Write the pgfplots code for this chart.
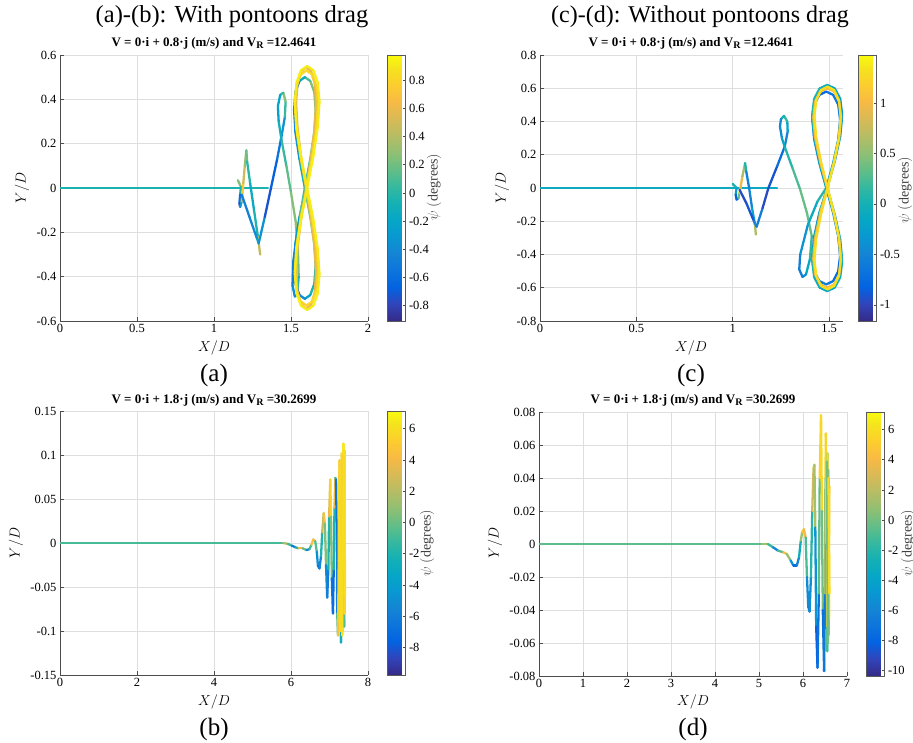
\documentclass[border=0pt]{standalone}
\usepackage{fontspec}
\setmainfont{Liberation Serif}
\usepackage{pgfplots}
\pgfplotsset{compat=1.18}

\pgfplotsset{
  colormap={parula}{
    rgb(0pt)=(0.2081,0.1663,0.5292) rgb(4pt)=(0.1959,0.2645,0.7279)
    rgb(8pt)=(0.0117,0.3875,0.8820) rgb(12pt)=(0.0498,0.4586,0.8641)
    rgb(16pt)=(0.0793,0.5200,0.8312) rgb(20pt)=(0.0343,0.5966,0.8199)
    rgb(24pt)=(0.0228,0.6535,0.7768) rgb(28pt)=(0.0843,0.6928,0.7062)
    rgb(32pt)=(0.2178,0.7250,0.6193) rgb(36pt)=(0.3953,0.7459,0.5244)
    rgb(40pt)=(0.5709,0.7485,0.4494) rgb(44pt)=(0.7184,0.7411,0.3905)
    rgb(48pt)=(0.8507,0.7299,0.3360) rgb(52pt)=(0.9739,0.7314,0.2666)
    rgb(56pt)=(0.9880,0.8066,0.1794) rgb(60pt)=(0.9589,0.8949,0.1132)
    rgb(63pt)=(0.9763,0.9831,0.0538)},
  every tick label/.append style={font=\fontsize{12.5}{15}\selectfont},
  traj/.style={
    scale only axis, anchor=north west,
    axis x line*=bottom, axis y line*=left,
    axis line style={black!70, line width=0.9pt},
    tick style={black!70, line width=0.8pt}, tick align=inside, major tick length=4pt,
    grid=major, grid style={black!13, line width=0.7pt},
    /pgf/number format/assume math mode=true,
    scaled ticks=false,
    xticklabel style={/pgf/number format/fixed, /pgf/number format/precision=2},
    yticklabel style={/pgf/number format/fixed, /pgf/number format/precision=2},
    colormap name=parula,
    colorbar,
    colorbar style={
      at={(parent axis.north east)}, anchor=north west,
      scale only axis, width=18pt,
      axis line style={black!65, line width=0.6pt},
      tick style={black!70, line width=0.6pt}, tick align=inside, major tick length=3pt,
      ytick pos=right, yticklabel pos=right,
      /pgf/number format/assume math mode=true,
      yticklabel style={/pgf/number format/fixed, /pgf/number format/precision=2},
    },
  },
  path/.style={mesh, line width=2.3pt, line cap=round, line join=round, point meta=explicit},
}

\newcommand{\subt}[2]{\textbf{V = 0·i + #1·j (m/s) and V\raisebox{-0.45ex}{\fontsize{10}{10}\selectfont R} =#2}}

\begin{document}
\begin{tikzpicture}
\path[use as bounding box] (0pt,0pt) rectangle (913pt,-743pt);

% ---------- (a) ----------
\begin{axis}[traj, at={(60pt,-55pt)}, width=308pt, height=266pt,
  xmin=0, xmax=2, ymin=-0.6, ymax=0.6,
  xtick={0,0.5,1,1.5,2}, ytick={-0.6,-0.4,-0.2,0,0.2,0.4,0.6},
  point meta min=-0.91, point meta max=0.98,
  colorbar style={xshift=11pt, height=266pt, ytick={-0.8,-0.6,-0.4,-0.2,0,0.2,0.4,0.6,0.8}}]
\addplot[path] table[meta=c] {
x y c
0 0 -0.05
1.35 0 -0.05
};
\addplot[path] table[meta=c] {
x y c
1.155 0.035 0.2
1.175 0.005 0.3
1.17 -0.03 -0.4
1.165 -0.07 -0.85
1.17 -0.085 -0.8
1.18 -0.06 0.2
1.185 -0.02 0.8
1.19 0.02 0.7
1.20 0.10 0.3
1.21 0.17 0.3
1.215 0.12 0.1
1.235 0.02 -0.1
1.26 -0.10 -0.2
1.285 -0.22 0.1
1.30 -0.30 0.8
};
\addplot[path] table[meta=c] {
x y c
1.18 -0.03 -0.4
1.23 -0.13 -0.5
1.28 -0.23 -0.3
1.29 -0.25 0.0
1.33 -0.13 -0.7
1.37 0.0 -0.75
1.41 0.13 -0.6
1.44 0.24 -0.5
1.46 0.32 -0.2
1.465 0.39 0.3
1.45 0.43 0.2
1.43 0.42 -0.1
1.415 0.37 -0.3
1.42 0.30 -0.2
1.44 0.21 0.0
1.47 0.10 0.1
1.50 -0.02 0.2
1.53 -0.15 0.3
1.545 -0.28 0.3
1.55 -0.40 0.1
1.54 -0.48 -0.2
1.525 -0.49 -0.3
1.51 -0.44 -0.45
1.515 -0.33 -0.5
1.54 -0.20 -0.3
1.57 -0.08 0.0
1.59 0.0 0.1
};
\addplot[path] table[meta=c] {
x y c
1.59 0 0.0
1.625 0.13 0.1
1.651 0.25 0.2
1.66 0.354 0.3
1.651 0.433 0.3
1.625 0.483 0.2
1.59 0.5 0.0
1.555 0.483 -0.3
1.529 0.433 -0.5
1.52 0.354 -0.5
1.529 0.25 -0.4
1.555 0.13 -0.3
1.59 0 0.1
1.625 -0.13 0.2
1.651 -0.25 0.2
1.66 -0.354 0.1
1.651 -0.433 0.0
1.625 -0.483 -0.1
1.59 -0.5 -0.3
1.555 -0.483 -0.5
1.529 -0.433 -0.6
1.52 -0.354 -0.5
1.529 -0.25 -0.4
1.555 -0.13 -0.2
1.598 0 0.5
1.6305 0.141 0.6
1.654 0.2725 0.6
1.663 0.385 0.55
1.654 0.472 0.6
1.6305 0.526 0.6
1.598 0.545 0.6
1.5655 0.526 0.55
1.542 0.472 0.6
1.533 0.385 0.6
1.542 0.2725 0.6
1.5655 0.141 0.55
1.598 0 0.6
1.6305 -0.141 0.6
1.654 -0.2725 0.6
1.663 -0.385 0.55
1.654 -0.472 0.6
1.6305 -0.526 0.6
1.598 -0.545 0.6
1.5655 -0.526 0.55
1.542 -0.472 0.6
1.533 -0.385 0.6
1.542 -0.2725 0.6
1.5655 -0.141 0.6
1.60 0 0.8
1.6375 0.137 0.8
1.665 0.265 0.85
1.675 0.375 0.8
1.665 0.459 0.75
1.6375 0.512 0.8
1.60 0.53 0.85
1.5625 0.512 0.8
1.535 0.459 0.75
1.525 0.375 0.8
1.535 0.265 0.85
1.5625 0.137 0.8
1.60 0 0.8
1.6375 -0.137 0.85
1.665 -0.265 0.8
1.675 -0.375 0.75
1.665 -0.459 0.8
1.6375 -0.512 0.85
1.60 -0.53 0.8
1.5625 -0.512 0.75
1.535 -0.459 0.8
1.525 -0.375 0.85
1.535 -0.265 0.8
1.5625 -0.137 0.8
1.605 0 0.92
1.645 0.142 0.95
1.674 0.275 0.92
1.685 0.389 0.9
1.674 0.476 0.95
1.645 0.531 0.92
1.605 0.55 0.9
1.565 0.531 0.95
1.536 0.476 0.92
1.525 0.389 0.9
1.536 0.275 0.95
1.565 0.142 0.92
1.605 0 0.9
1.645 -0.142 0.95
1.674 -0.275 0.92
1.685 -0.389 0.9
1.674 -0.476 0.95
1.645 -0.531 0.92
1.605 -0.55 0.9
1.565 -0.531 0.95
1.536 -0.476 0.92
1.525 -0.389 0.9
1.536 -0.275 0.95
1.565 -0.142 0.92
1.605 0 0.9
};
\end{axis}

% ---------- (c) ----------
\begin{axis}[traj, at={(540pt,-55pt)}, width=303pt, height=266pt,
  xmin=0, xmax=1.572, ymin=-0.8, ymax=0.8,
  xtick={0,0.5,1,1.5}, ytick={-0.8,-0.6,-0.4,-0.2,0,0.2,0.4,0.6,0.8},
  point meta min=-1.16, point meta max=1.475,
  colorbar style={xshift=7pt, height=266pt, ytick={-1,-0.5,0,0.5,1}}]
\addplot[path] table[meta=c] {
x y c
0 0 -0.1
1.23 0 -0.1
};
\addplot[path] table[meta=c] {
x y c
1.0 0.025 -0.1
1.02 0.0 0.2
1.015 -0.04 -0.6
1.02 -0.07 -1.0
1.03 -0.06 -0.5
1.035 -0.03 1.2
1.04 0.0 1.3
1.05 0.07 0.6
1.064 0.15 0.6
1.07 0.10 -0.5
1.085 0.0 -0.6
1.10 -0.12 -0.4
1.115 -0.22 0.0
1.12 -0.28 1.3
};
\addplot[path] table[meta=c] {
x y c
1.035 -0.01 -0.9
1.07 -0.09 -1.0
1.11 -0.20 -0.8
1.124 -0.233 -0.2
1.155 -0.12 -0.9
1.185 0.0 -1.0
1.23 0.13 -0.8
1.27 0.25 -0.6
1.285 0.34 -0.4
1.283 0.40 0.0
1.266 0.434 0.3
1.25 0.415 -0.3
1.245 0.37 -0.6
1.255 0.30 -0.3
1.272 0.24 0.0
1.31 0.12 0.2
1.35 -0.01 0.3
1.385 -0.15 0.4
1.41 -0.29 0.3
1.40 -0.43 0.0
1.38 -0.52 -0.3
1.362 -0.535 -0.5
1.345 -0.49 -0.6
1.35 -0.40 -0.5
1.39 -0.22 -0.2
1.44 -0.08 0.0
1.485 0.0 0.2
};
\addplot[path] table[meta=c] {
x y c
1.485 0 0.0
1.521 0.15 -0.2
1.547 0.29 -0.4
1.557 0.41 -0.5
1.547 0.502 -0.6
1.521 0.56 -0.6
1.485 0.58 -0.7
1.449 0.56 -0.8
1.423 0.502 -0.8
1.413 0.41 -0.7
1.423 0.29 -0.5
1.449 0.15 -0.3
1.485 0 -0.2
1.521 -0.15 -0.4
1.547 -0.29 -0.6
1.557 -0.41 -0.7
1.547 -0.502 -0.8
1.521 -0.56 -0.7
1.485 -0.58 -0.6
1.449 -0.56 -0.5
1.423 -0.502 -0.6
1.413 -0.41 -0.8
1.423 -0.29 -0.6
1.449 -0.15 -0.3
1.49 0 -0.1
1.529 0.16 -0.2
1.5575 0.31 -0.3
1.568 0.438 -0.4
1.5575 0.537 -0.3
1.529 0.599 -0.2
1.49 0.62 -0.1
1.451 0.599 0.0
1.4225 0.537 0.1
1.412 0.438 0.0
1.4225 0.31 -0.1
1.451 0.16 -0.2
1.49 0 -0.2
1.529 -0.16 -0.3
1.5575 -0.31 -0.2
1.568 -0.438 -0.1
1.5575 -0.537 0.0
1.529 -0.599 -0.1
1.49 -0.62 -0.2
1.451 -0.599 -0.1
1.4225 -0.537 0.0
1.412 -0.438 0.1
1.4225 -0.31 0.0
1.451 -0.16 0.2
1.49 0 1.0
1.526 0.155 1.05
1.552 0.30 1.0
1.562 0.424 0.95
1.552 0.52 1.0
1.526 0.58 1.05
1.49 0.60 1.0
1.454 0.58 0.95
1.428 0.52 1.0
1.418 0.424 1.05
1.428 0.30 1.0
1.454 0.155 0.95
1.49 0 1.0
1.526 -0.155 1.05
1.552 -0.30 1.0
1.562 -0.424 0.95
1.552 -0.52 1.0
1.526 -0.58 1.05
1.49 -0.60 1.0
1.454 -0.58 0.95
1.428 -0.52 1.0
1.418 -0.424 1.05
1.428 -0.30 1.0
1.454 -0.155 0.95
1.492 0 1.3
1.526 0.158 1.35
1.551 0.305 1.3
1.56 0.431 1.25
1.551 0.528 1.3
1.526 0.589 1.35
1.492 0.61 1.3
1.458 0.589 1.25
1.433 0.528 1.3
1.424 0.431 1.35
1.433 0.305 1.3
1.458 0.158 1.25
1.492 0 1.3
1.526 -0.158 1.35
1.551 -0.305 1.3
1.56 -0.431 1.25
1.551 -0.528 1.3
1.526 -0.589 1.35
1.492 -0.61 1.3
1.458 -0.589 1.25
1.433 -0.528 1.3
1.424 -0.431 1.35
1.433 -0.305 1.3
1.458 -0.158 1.25
1.492 0 1.3
};
\end{axis}

% ---------- (b) ----------
\begin{axis}[traj, at={(60pt,-411pt)}, width=308pt, height=264pt,
  xmin=0, xmax=8, ymin=-0.15, ymax=0.15,
  xtick={0,2,4,6,8}, ytick={-0.15,-0.1,-0.05,0,0.05,0.1,0.15},
  point meta min=-9.75, point meta max=7.13,
  colorbar style={xshift=11pt, height=264pt, ytick={-8,-6,-4,-2,0,2,4,6}}]
\addplot[path] table[meta=c] {
x y c
0 0 -0.8
5.80 0.000 -0.8
5.92 -0.001 4
6.02 -0.003 -6
6.12 -0.005 -6
6.20 -0.006 3
6.30 -0.006 5
6.40 -0.008 -5
6.48 -0.007 -6
6.53 -0.002 4
6.58 0.004 5
6.63 0.002 3
6.67 -0.010 -4
6.70 -0.026 -6
6.74 -0.029 -7
6.78 -0.015 -4
6.81 0.012 0
6.85 0.034 5
6.88 0.022 4
6.91 -0.025 -3
6.94 -0.062 -7
6.97 -0.030 -5
6.99 0.030 1
7.02 0.072 6
7.04 0.030 5
7.06 -0.040 -4
7.09 -0.080 -9
7.11 -0.030 -5
7.13 0.040 1
7.15 0.074 6
7.17 0.072 -8
7.19 0.010 -5
7.20 -0.080 -7
7.22 -0.105 6
7.24 -0.020 3
7.26 0.094 6
7.275 0.030 5
7.29 -0.070 -3
7.30 -0.113 -9
7.315 -0.030 4
7.32 0.102 6
7.335 0.020 6
7.34 -0.100 6
7.355 -0.050 5
7.36 0.113 6
7.37 0.000 7
7.38 -0.095 -7
7.385 0.060 6
7.39 -0.080 5
7.38 0.080 6
7.28 -0.100 6
7.27 0.085 6
7.33 -0.105 6
7.34 0.100 6
7.25 -0.090 5
7.24 0.070 6
7.30 -0.095 6
7.395 0.105 6
7.40 -0.060 6
};
\end{axis}

% ---------- (d) ----------
\begin{axis}[traj, at={(539pt,-412pt)}, width=308pt, height=264pt,
  xmin=0, xmax=7, ymin=-0.08, ymax=0.08,
  xtick={0,1,2,3,4,5,6,7}, ytick={-0.08,-0.06,-0.04,-0.02,0,0.02,0.04,0.06,0.08},
  point meta min=-10.36, point meta max=7.17,
  colorbar style={xshift=11pt, height=264pt, ytick={-10,-8,-6,-4,-2,0,2,4,6}}]
\addplot[path] table[meta=c] {
x y c
0 0 -0.6
5.07 0 -0.6
5.20 0.000 3
5.32 -0.002 -6
5.43 -0.004 -6
5.55 -0.005 4
5.63 -0.006 5
5.72 -0.010 -3
5.78 -0.013 -7
5.86 -0.013 -8
5.91 -0.008 -4
5.95 0.002 -2
5.98 0.007 4
6.02 0.009 5
6.06 0.004 3
6.09 -0.020 -5
6.12 -0.038 -6
6.15 -0.041 -7
6.18 -0.020 -4
6.21 0.020 0
6.24 0.046 5
6.26 0.048 6
6.28 0.010 -3
6.30 -0.050 -7
6.33 -0.075 -9.5
6.36 -0.030 -5
6.38 0.040 4
6.41 0.078 6.5
6.43 0.020 5
6.45 -0.040 -5
6.48 -0.077 -9.5
6.50 -0.030 -4
6.51 0.040 6
6.52 0.067 6
6.535 0.000 5
6.55 -0.065 -8
6.555 0.055 6
6.565 -0.040 6
6.575 0.045 6
6.58 -0.055 -5
6.585 0.030 6
6.59 -0.045 6
6.595 0.035 5
6.56 -0.050 5
6.54 0.050 6
6.57 -0.060 -6
6.58 0.040 6
6.60 -0.030 6
};
\end{axis}

% ---------- text ----------
\node[font=\fontsize{24.5}{28}\selectfont] at (232pt,-17pt) {(a)-(b): With pontoons drag};
\node[font=\fontsize{24}{28}\selectfont] at (700pt,-17pt) {(c)-(d): Without pontoons drag};
\node[font=\fontsize{13}{15}\selectfont] at (214pt,-43pt) {\subt{0.8}{12.4641}};
\node[font=\fontsize{13}{15}\selectfont] at (691pt,-43pt) {\subt{0.8}{12.4641}};
\node[font=\fontsize{13}{15}\selectfont] at (214pt,-400pt) {\subt{1.8}{30.2699}};
\node[font=\fontsize{13}{15}\selectfont] at (693pt,-400pt) {\subt{1.8}{30.2699}};

\node[font=\fontsize{14}{16}\selectfont] at (214pt,-348pt) {$X/D$};
\node[font=\fontsize{14}{16}\selectfont] at (691pt,-348pt) {$X/D$};
\node[font=\fontsize{14}{16}\selectfont] at (214pt,-702pt) {$X/D$};
\node[font=\fontsize{14}{16}\selectfont] at (693pt,-702pt) {$X/D$};
\node[font=\fontsize{14}{16}\selectfont, rotate=90] at (22pt,-188pt) {$Y/D$};
\node[font=\fontsize{14}{16}\selectfont, rotate=90] at (502pt,-188pt) {$Y/D$};
\node[font=\fontsize{14}{16}\selectfont, rotate=90] at (16pt,-543pt) {$Y/D$};
\node[font=\fontsize{14}{16}\selectfont, rotate=90] at (495pt,-543pt) {$Y/D$};

\node[font=\fontsize{14}{16}\selectfont, rotate=90, text=black!75] at (434pt,-187pt) {$\psi\ \mathrm{(degrees)}$};
\node[font=\fontsize{14}{16}\selectfont, rotate=90, text=black!75] at (905pt,-190pt) {$\psi\ \mathrm{(degrees)}$};
\node[font=\fontsize{14}{16}\selectfont, rotate=90, text=black!75] at (427pt,-543pt) {$\psi\ \mathrm{(degrees)}$};
\node[font=\fontsize{14}{16}\selectfont, rotate=90, text=black!75] at (908pt,-543pt) {$\psi\ \mathrm{(degrees)}$};

\node[font=\fontsize{25}{28}\selectfont] at (214pt,-375pt) {(a)};
\node[font=\fontsize{25}{28}\selectfont] at (691pt,-375pt) {(c)};
\node[font=\fontsize{25}{28}\selectfont] at (214pt,-729pt) {(b)};
\node[font=\fontsize{25}{28}\selectfont] at (693pt,-729pt) {(d)};
\end{tikzpicture}
\end{document}
